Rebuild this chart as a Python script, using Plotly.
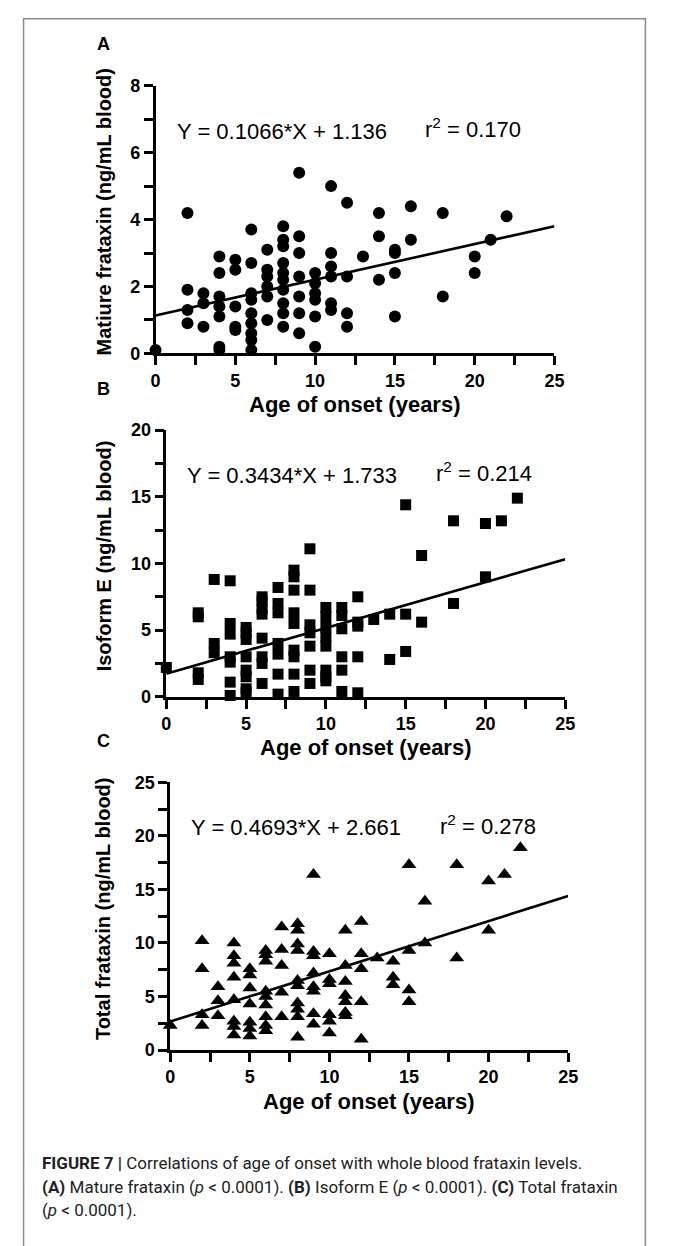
import plotly.graph_objects as go

W, H = 673, 1246

# ---------------- data ----------------
mature_x = [0, 2, 2, 2, 2, 3, 3, 3, 4, 4, 4, 4, 4, 4, 4, 5, 5, 5, 5, 5,
            6, 6, 6, 6, 6, 6, 6, 6, 6, 7, 7, 7, 7, 7, 7,
            8, 8, 8, 8, 8, 8, 8, 8, 8, 8, 9, 9, 9, 9, 9, 9, 9,
            10, 10, 10, 10, 10, 10, 11, 11, 11, 11, 11, 11, 12, 12, 12, 12,
            13, 14, 14, 14, 15, 15, 15, 15, 16, 16, 18, 18, 20, 20, 21, 22]
mature_y = [0.1, 4.2, 1.9, 1.3, 0.9, 1.8, 1.5, 0.8, 2.9, 2.4, 1.7, 1.4, 1.1, 0.2, 0.1,
            2.8, 2.5, 1.4, 0.8, 0.7,
            3.7, 2.7, 1.8, 1.6, 1.2, 0.9, 0.6, 0.4, 0.1, 3.1, 2.5, 2.3, 2.0, 1.7, 1.0,
            3.8, 3.4, 3.2, 2.7, 2.4, 2.2, 1.9, 1.5, 1.2, 0.8,
            5.4, 3.5, 3.0, 2.3, 1.7, 1.2, 0.6,
            2.4, 2.1, 1.8, 1.6, 1.1, 0.2, 5.0, 3.0, 2.6, 2.3, 1.5, 1.3,
            4.5, 2.3, 1.2, 0.8,
            2.9, 4.2, 3.5, 2.2, 3.1, 3.0, 2.4, 1.1, 4.4, 3.4, 4.2, 1.7, 2.9, 2.4, 3.4, 4.1]

isoE_x = [0, 2, 2, 2, 2, 3, 3, 3, 4, 4, 4, 4, 4, 4, 4, 5, 5, 5, 5, 5, 5, 5, 5,
          6, 6, 6, 6, 6, 6, 6, 6, 7, 7, 7, 7, 7, 7, 7,
          8, 8, 8, 8, 8, 8, 8, 8, 8, 9, 9, 9, 9, 9, 9, 9,
          10, 10, 10, 10, 10, 10, 10, 10, 11, 11, 11, 11, 11, 11,
          12, 12, 12, 12, 12, 13, 14, 14, 15, 15, 15, 16, 16, 18, 18, 20, 20, 21, 22]
isoE_y = [2.2, 6.3, 6.0, 1.8, 1.3, 8.8, 4.0, 3.3, 8.7, 5.5, 4.7, 3.0, 2.6, 1.1, 0.1,
          5.2, 4.8, 4.3, 3.0, 2.0, 1.5, 0.6, 0.3,
          7.5, 7.2, 6.6, 6.2, 4.4, 3.0, 2.5, 1.0, 8.2, 7.0, 6.3, 4.0, 3.2, 1.7, 0.2,
          9.5, 9.0, 8.0, 6.3, 5.5, 3.5, 3.0, 1.7, 0.4, 11.1, 8.0, 5.4, 4.8, 3.8, 2.0, 1.0,
          6.7, 6.0, 5.2, 4.5, 3.8, 2.0, 1.5, 1.2, 6.7, 6.1, 5.1, 3.0, 2.0, 0.4,
          7.5, 5.6, 5.3, 3.0, 0.3, 5.8, 6.2, 2.8, 14.4, 6.2, 3.4, 10.6, 5.6,
          13.2, 7.0, 13.0, 9.0, 13.2, 14.9]

total_x = [0, 2, 2, 2, 2, 3, 3, 3, 4, 4, 4, 4, 4, 4, 4, 4, 5, 5, 5, 5, 5, 5, 5,
           6, 6, 6, 6, 6, 6, 6, 6, 6, 7, 7, 7, 7, 7,
           8, 8, 8, 8, 8, 8, 8, 8, 8, 8, 9, 9, 9, 9, 9, 9, 9, 9,
           10, 10, 10, 10, 10, 10, 11, 11, 11, 11, 11, 11, 11,
           12, 12, 12, 12, 12, 13, 14, 14, 14, 15, 15, 15, 15, 16, 16, 18, 18, 20, 20, 21, 22]
total_y = [2.3, 10.2, 7.6, 3.3, 2.3, 5.9, 4.6, 3.2, 10.0, 8.8, 8.1, 6.8, 4.7, 2.7, 2.2, 1.4,
           7.6, 7.0, 5.8, 4.3, 2.6, 2.0, 1.3,
           9.3, 8.9, 8.3, 5.5, 5.0, 4.2, 3.1, 2.3, 1.8, 11.5, 9.4, 7.9, 5.4, 3.1,
           11.8, 11.2, 9.9, 9.3, 6.5, 6.0, 4.4, 3.8, 3.1, 1.2,
           16.4, 9.2, 8.8, 7.2, 5.9, 5.5, 3.4, 2.4,
           9.0, 6.6, 6.2, 3.3, 2.7, 1.6, 11.2, 7.9, 6.4, 5.1, 4.5, 3.5, 3.2,
           12.0, 9.0, 7.6, 4.5, 1.0, 8.6, 8.3, 6.8, 6.1, 17.3, 9.3, 5.6, 4.5,
           13.9, 10.0, 17.3, 8.6, 15.8, 11.2, 16.4, 18.9]

slopes = [0.1066, 0.3434, 0.4693]
intercepts = [1.136, 1.733, 2.661]
r_squared = ["0.170", "0.214", "0.278"]
panel_letters = ["A", "B", "C"]
y_titles = ["Matiure frataxin (ng/mL blood)", "Isoform E (ng/mL blood)",
            "Total frataxin (ng/mL blood)"]
x_title = "Age of onset (years)"
y_max = [8, 20, 25]
y_dtick = [2, 5, 5]
y_minor = [1, 2.5, 2.5]
symbols = ["circle", "square", "triangle-up"]
caption_lines = [
    "<b>FIGURE 7 |</b> Correlations of age of onset with whole blood frataxin levels.",
    "<b>(A)</b> Mature frataxin (<i>p</i> &lt; 0.0001). <b>(B)</b> Isoform E (<i>p</i> &lt; 0.0001). <b>(C)</b> Total frataxin",
    "(<i>p</i> &lt; 0.0001).",
]

# ---------------- layout geometry (pixels) ----------------
plot_left = [154, 165, 169]
plot_right = [562, 573, 576]
plot_bottom = [349, 698, 1057]
plot_top = [77, 427, 785]
marker_sizes = [12, 11, 13]


def px(x):
    return x / W


def py(y):
    return 1 - y / H


FONT = "Liberation Sans, Arial, sans-serif"

fig = go.Figure()
xs = [mature_x, isoE_x, total_x]
ys = [mature_y, isoE_y, total_y]
annotations = []
for i in range(3):
    ax = "" if i == 0 else str(i + 1)
    fig.add_trace(go.Scatter(
        x=xs[i], y=ys[i], mode="markers", xaxis="x" + ax, yaxis="y" + ax,
        marker=dict(symbol=symbols[i], color="black", size=marker_sizes[i],
                    line=dict(width=0)),
        cliponaxis=False, showlegend=False, hoverinfo="skip"))
    lx = [0, 25]
    ly = [intercepts[i] + slopes[i] * v for v in lx]
    fig.add_trace(go.Scatter(
        x=lx, y=ly, mode="lines", xaxis="x" + ax, yaxis="y" + ax,
        line=dict(color="black", width=2.6), cliponaxis=False,
        showlegend=False, hoverinfo="skip"))
    axis_common = dict(showgrid=False, zeroline=False, showline=True,
                       linecolor="black", linewidth=2.5, ticks="outside",
                       ticklen=9, tickwidth=2.5, tickcolor="black",
                       tickfont=dict(family=FONT, size=18, color="black",
                                     weight="bold"))
    fig.layout["xaxis" + ax] = dict(
        axis_common, domain=[px(plot_left[i]), px(plot_right[i])],
        range=[0, 25], tick0=0, dtick=5, anchor="y" + ax,
        minor=dict(dtick=2.5, tick0=0, ticks="outside", ticklen=9,
                   tickwidth=2.5, tickcolor="black"))
    fig.layout["yaxis" + ax] = dict(
        axis_common, domain=[py(plot_bottom[i]), py(plot_top[i])],
        range=[0, y_max[i]], tick0=0, dtick=y_dtick[i], anchor="x" + ax,
        minor=dict(dtick=y_minor[i], tick0=0, ticks="outside", ticklen=9,
                   tickwidth=2.5, tickcolor="black"))

    # panel letter
    annotations.append(dict(text="<b>%s</b>" % panel_letters[i], x=px(101),
                            y=py(plot_top[i] - 42), xref="paper", yref="paper",
                            showarrow=False, xanchor="center", yanchor="middle",
                            font=dict(family=FONT, size=18, color="black")))
    # y title
    annotations.append(dict(text="<b>%s</b>" % y_titles[i], x=px(101),
                            y=py((plot_top[i] + plot_bottom[i]) / 2 - 8),
                            xref="paper", yref="paper", textangle=-90,
                            showarrow=False, xanchor="center", yanchor="middle",
                            font=dict(family=FONT, size=20, color="black")))
    # x title
    annotations.append(dict(text="<b>%s</b>" % x_title,
                            x=px((plot_left[i] + plot_right[i]) / 2),
                            y=py(plot_bottom[i] + 52), xref="paper", yref="paper",
                            showarrow=False, xanchor="center", yanchor="middle",
                            font=dict(family=FONT, size=22, color="black")))
    # equation
    annotations.append(dict(text="Y = %.4f*X + %.3f" % (slopes[i], intercepts[i]),
                            x=px(plot_left[i] + 129), y=py(plot_top[i] + 46),
                            xref="paper", yref="paper", showarrow=False,
                            xanchor="center", yanchor="middle",
                            font=dict(family=FONT, size=22, color="black")))
    annotations.append(dict(text="r<sup>2</sup> = %s" % r_squared[i],
                            x=px(plot_left[i] + 325), y=py(plot_top[i] + 43),
                            xref="paper", yref="paper", showarrow=False,
                            xanchor="center", yanchor="middle",
                            font=dict(family=FONT, size=22, color="black")))

CAP_FONT = "Roboto, Liberation Sans, sans-serif"
for k, line in enumerate(caption_lines):
    annotations.append(dict(text=line, x=px(36), y=py(1172 + 24 * k),
                            xref="paper", yref="paper", showarrow=False,
                            xanchor="left", yanchor="middle", align="left",
                            font=dict(family=CAP_FONT, size=17, color="#222")))

shapes = [dict(type="rect", xref="paper", yref="paper", x0=px(19), x1=px(655),
               y0=-0.02, y1=py(9), line=dict(color="#8a8a8a", width=1.5))]

fig.update_layout(width=W, height=H, margin=dict(l=0, r=0, t=0, b=0),
                  paper_bgcolor="white", plot_bgcolor="white",
                  annotations=annotations, shapes=shapes,
                  font=dict(family=FONT, color="black"))

fig.write_html("out.html")
